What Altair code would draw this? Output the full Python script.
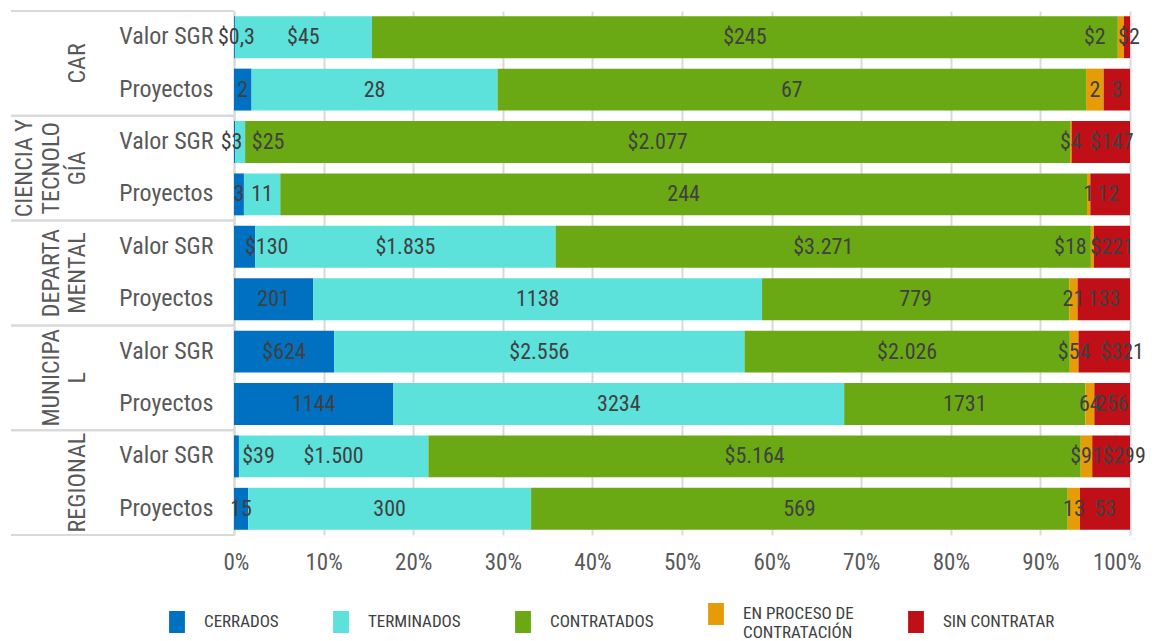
import altair as alt
import pandas as pd

# ---------------- data ----------------
grupos = ["CAR", "CIENCIA Y TECNOLOGÍA", "DEPARTAMENTAL", "MUNICIPAL", "REGIONAL"]
grupos_lineas = ["CAR", "CIENCIA Y|TECNOLO|GÍA", "DEPARTA|MENTAL", "MUNICIPA|L", "REGIONAL"]
filas = ["Valor SGR", "Proyectos"]
estados = ["CERRADOS", "TERMINADOS", "CONTRATADOS", "EN PROCESO DE CONTRATACIÓN", "SIN CONTRATAR"]
colores = ["#0070C0", "#5CE1DB", "#6AA913", "#E59C06", "#C00F17"]

# Valor SGR per estado
valor_car = [0.3, 45, 245, 2, 2]
valor_cyt = [3, 25, 2077, 4, 147]
valor_dep = [130, 1835, 3271, 18, 221]
valor_mun = [624, 2556, 2026, 54, 321]
valor_reg = [39, 1500, 5164, 91, 299]

# Número de proyectos per estado
proy_car = [2, 28, 67, 2, 3]
proy_cyt = [3, 11, 244, 1, 12]
proy_dep = [201, 1138, 779, 21, 133]
proy_mun = [1144, 3234, 1731, 64, 256]
proy_reg = [15, 300, 569, 13, 53]

valores = [valor_car, valor_cyt, valor_dep, valor_mun, valor_reg]
proyectos = [proy_car, proy_cyt, proy_dep, proy_mun, proy_reg]

# label nudges (pixels) so that small-segment labels do not collide (style only)
ajustes = {
    ("CAR", "Valor SGR", "CERRADOS"): 2,
    ("CAR", "Valor SGR", "EN PROCESO DE CONTRATACIÓN"): -26,
    ("CAR", "Valor SGR", "SIN CONTRATAR"): 2,
    ("CIENCIA Y TECNOLOGÍA", "Valor SGR", "CERRADOS"): -3,
    ("CIENCIA Y TECNOLOGÍA", "Valor SGR", "TERMINADOS"): 28,
    ("CIENCIA Y TECNOLOGÍA", "Valor SGR", "SIN CONTRATAR"): 11,
    ("CIENCIA Y TECNOLOGÍA", "Proyectos", "SIN CONTRATAR"): -2,
    ("DEPARTAMENTAL", "Valor SGR", "CERRADOS"): 22,
    ("DEPARTAMENTAL", "Valor SGR", "EN PROCESO DE CONTRATACIÓN"): -22,
    ("MUNICIPAL", "Valor SGR", "SIN CONTRATAR"): 18,
    ("REGIONAL", "Valor SGR", "CERRADOS"): 22,
    ("REGIONAL", "Valor SGR", "SIN CONTRATAR"): 13,
}


def fmt_es(v):
    if float(v).is_integer():
        return f"{int(v):,}".replace(",", ".")
    return str(v).replace(".", ",")


W, H = 896, 524

rows = []
for g, gl, vals, prs in zip(grupos, grupos_lineas, valores, proyectos):
    for fila, serie in (("Valor SGR", vals), ("Proyectos", prs)):
        for i, e in enumerate(estados):
            etq = "$" + fmt_es(serie[i]) if fila == "Valor SGR" else str(serie[i])
            rows.append({"grupo": g, "grupo_etq": gl, "nlin": gl.count("|") + 1,
                         "fila": fila, "clave": g + "|" + fila,
                         "estado": e, "orden": i, "valor": serie[i], "etiqueta": etq,
                         "ajuste": ajustes.get((g, fila, e), 0) / W})
df = pd.DataFrame(rows)
claves = [g + "|" + f for g in grupos for f in filas]

FONT = "Liberation Sans Narrow, Arial Narrow, Roboto Condensed, sans-serif"
TXT = "#404040"
AX = "#595959"
GRID = "#d9d9d9"
LH = 26.5  # line height of the wrapped group names

legend_expr = ("datum.label == 'EN PROCESO DE CONTRATACIÓN' ? "
               "['EN PROCESO DE', 'CONTRATACIÓN'] : datum.label")

base = alt.Chart(df).transform_stack(
    stack="valor", groupby=["clave"], as_=["x0", "x1"], offset="normalize",
    sort=[alt.SortField("orden", order="ascending")]
).transform_calculate(mid="(datum.x0 + datum.x1) / 2 + datum.ajuste")

x_scale = alt.Scale(domain=[0, 1], nice=False)
y_scale = alt.Scale(paddingInner=0.2, paddingOuter=0.1)

bars = base.mark_bar().encode(
    x=alt.X("x0:Q", scale=x_scale, title=None,
            axis=alt.Axis(format=".0%", values=[i / 10 for i in range(11)], grid=True,
                          gridColor=GRID, gridWidth=2, domain=False, ticks=False,
                          labelFlush=True, labelFlushOffset=11, labelFont=FONT,
                          labelFontSize=23, labelColor=AX, labelPadding=16)),
    x2="x1:Q",
    y=alt.Y("clave:N", sort=claves, title=None, scale=y_scale,
            axis=alt.Axis(ticks=False, domain=True, domainColor=GRID, domainWidth=2,
                          labelFont=FONT, labelFontSize=24, labelColor=AX,
                          labelPadding=21,
                          labelExpr="split(datum.value, '|')[1]")),
    color=alt.Color("estado:N", scale=alt.Scale(domain=estados, range=colores),
                    legend=alt.Legend(title=None, orient="none", legendX=-68, legendY=592,
                                      direction="horizontal", columns=5,
                                      symbolType="M-0.72,-1H0.72V1H-0.72Z",
                                      symbolSize=484, symbolStrokeWidth=0,
                                      labelFont=FONT, labelFontSize=17, labelColor=TXT,
                                      labelExpr=legend_expr, labelOffset=16,
                                      columnPadding=51, labelLimit=400)),
)

text = base.mark_text(font=FONT, fontSize=22, color=TXT, align="center",
                      baseline="middle").encode(
    x=alt.X("mid:Q", scale=x_scale),
    y=alt.Y("clave:N", sort=claves, scale=y_scale),
    text="etiqueta:N",
)

one = (alt.datum.estado == "CERRADOS") & (alt.datum.fila == "Valor SGR")
g_scale = alt.Scale(paddingInner=0, paddingOuter=0)

group_layers = []
for n in (1, 2, 3):
    group_layers.append(
        alt.Chart(df).transform_filter(one & (alt.datum.nlin == n)).mark_text(
            font=FONT, fontSize=24, color=AX, angle=270, lineBreak="|", lineHeight=LH,
            align="center", baseline="bottom").encode(
            x=alt.value(-144 - (n - 1) * LH),
            y=alt.Y("grupo:N", sort=grupos, scale=g_scale, axis=None),
            text="grupo_etq:N",
        )
    )

rule_top = alt.Chart(df).transform_filter(one).mark_rule(color=GRID, strokeWidth=2).encode(
    x=alt.value(-223), x2=alt.value(0),
    y=alt.Y("grupo:N", sort=grupos, scale=g_scale, axis=None, bandPosition=0))
rule_bot = alt.Chart(df).transform_filter(one).mark_rule(color=GRID, strokeWidth=2).encode(
    x=alt.value(-223), x2=alt.value(0),
    y=alt.Y("grupo:N", sort=grupos, scale=g_scale, axis=None, bandPosition=1))

chart = alt.layer(
    alt.layer(bars, text),
    alt.layer(*group_layers, rule_top, rule_bot),
).resolve_scale(y="independent").properties(
    width=W, height=H,
    padding={"left": 2, "top": 2, "right": 0, "bottom": 0},
).configure_view(strokeWidth=0)

chart.save("out.html", embed_options={"renderer": "svg", "actions": False})
